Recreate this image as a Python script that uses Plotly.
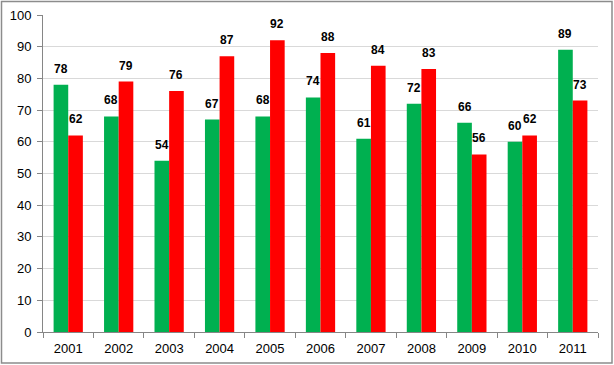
import plotly.graph_objects as go

years = ["2001", "2002", "2003", "2004", "2005", "2006", "2007", "2008", "2009", "2010", "2011"]
green_vals = [78, 68, 54, 67, 68, 74, 61, 72, 66, 60, 89]
red_vals = [62, 79, 76, 87, 92, 88, 84, 83, 56, 62, 73]
y_ticks = list(range(0, 101, 10))

W, H = 614, 365
L, R, T, B = 43, 16, 15, 33
pw, ph = W - L - R, H - T - B

fig = go.Figure()
annotations = []
for vals, col, shift in [(green_vals, "#00B050", -7.3), (red_vals, "#FF0000", 7.3)]:
    fig.add_trace(go.Bar(
        x=years, y=vals, marker=dict(color=col, line=dict(width=0)),
        showlegend=False, hoverinfo="x+y",
    ))
    # category axis: annotation x given as the category's serial index
    for i, yv in enumerate(vals):
        annotations.append(dict(
            x=i, y=yv, xref="x", yref="y", text=f"<b>{yv}</b>", showarrow=False,
            xshift=shift, yshift=7, yanchor="bottom",
            font=dict(family="Liberation Sans, Arial", size=12, color="black"),
        ))

fig.update_layout(
    width=W, height=H,
    margin=dict(l=L, r=R, t=T, b=B, autoexpand=False),
    barmode="group", bargap=0.42, bargroupgap=0,
    plot_bgcolor="white", paper_bgcolor="white",
    font=dict(family="Liberation Sans, Arial", size=13, color="black"),
    annotations=annotations,
    shapes=[dict(type="rect", xref="paper", yref="paper",
                 x0=-(L - 1.5) / pw, x1=1 + (R - 2) / pw,
                 y0=-(B - 2) / ph, y1=1 + (T - 1.5) / ph,
                 line=dict(color="#8c8c8c", width=1.5))],
)
fig.update_yaxes(range=[0, 100], tickvals=y_ticks, showgrid=True, gridcolor="#d9d9d9",
                 showline=True, linecolor="#868686", ticks="outside", ticklen=5,
                 tickcolor="#868686", zeroline=False, automargin=False,
                 ticklabelstandoff=3)
fig.update_xaxes(type="category", range=[-0.5, len(years) - 0.5], showline=True,
                 linecolor="#868686", ticks="outside", ticklen=5,
                 tickcolor="#868686", tickson="boundaries", showgrid=False, automargin=False,
                 ticklabelstandoff=4)

fig.write_html("out.html", config={"displayModeBar": False},
               post_script="document.body.style.margin='0';document.body.style.padding='0';")
